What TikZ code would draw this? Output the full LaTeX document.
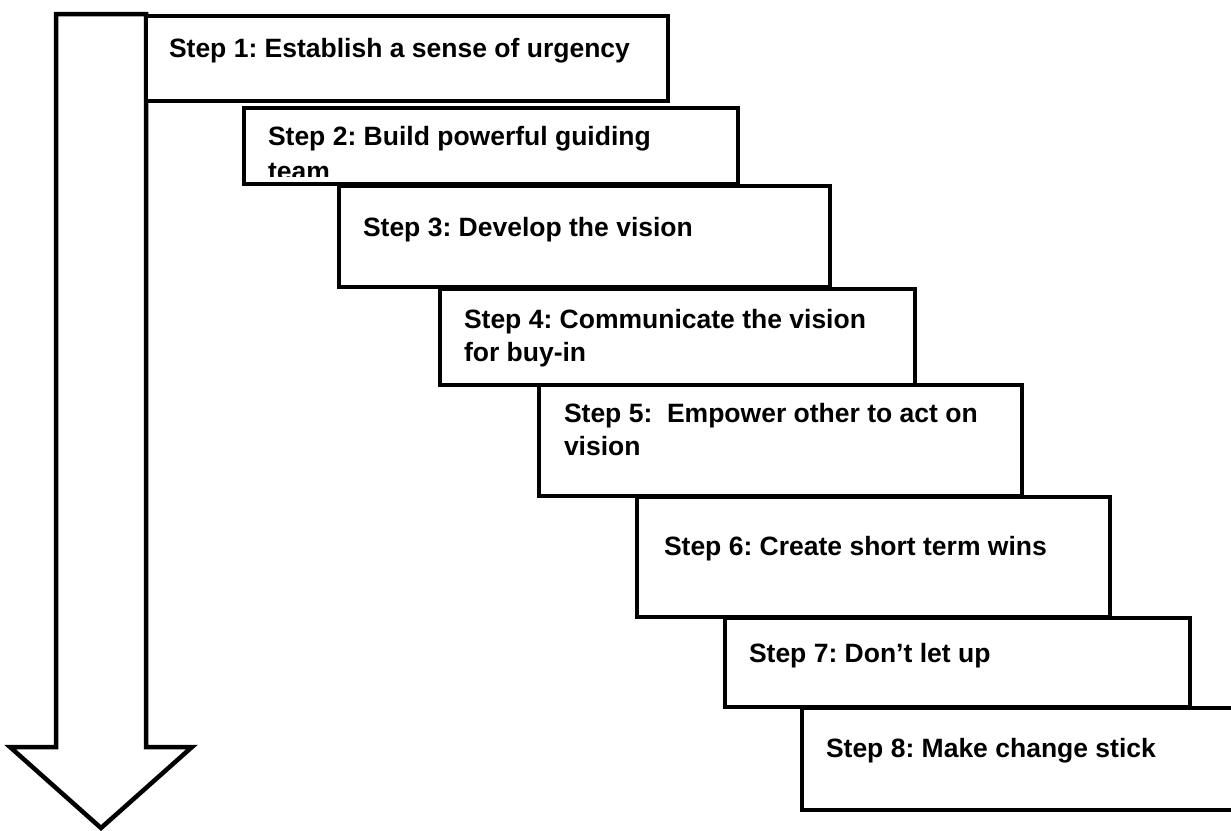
\documentclass[tikz,border=0pt]{standalone}
\usepackage{fontspec}
\setmainfont{Liberation Sans}
\frenchspacing
\begin{document}
\begin{tikzpicture}[x=1pt,y=-1pt,
  stepbox/.style={draw=black,fill=white,line width=4.5pt,line join=miter,rectangle,inner sep=0pt,outer sep=0pt,anchor=north west},
  steptext/.style={anchor=base west,inner sep=0pt,outer sep=0pt,font=\fontsize{26.5}{33}\selectfont\bfseries},
  bigarrow/.style={draw=black,fill=white,line width=4.5pt,line join=miter}]
\useasboundingbox (0,0) rectangle (1231,830);
% big down arrow
\draw[bigarrow] (56,14) -- (146,14) -- (146,747) -- (192,747) -- (101,828) -- (10,747) -- (56,747) -- cycle;
% boxes
\node[stepbox,minimum width=522pt,minimum height=85pt] (b1) at (146,16) {};
\node[steptext] (t1) at (169,57) {Step 1: Establish a sense of urgency};
\node[stepbox,minimum width=494pt,minimum height=76pt] (b2) at (244,108) {};
\begin{scope}
\clip (244,108) rectangle (738,176);
\node[steptext] (t2) at (268,145) {\begin{tabular}[t]{@{}l@{}}Step 2: Build powerful guiding\\[2pt]team\end{tabular}};
\end{scope}
\node[stepbox,minimum width=491pt,minimum height=101pt] (b3) at (339,186) {};
\node[steptext] (t3) at (363,236) {Step 3: Develop the vision};
\node[stepbox,minimum width=475pt,minimum height=96pt] (b4) at (440,289) {};
\node[steptext] (t4) at (464,328) {\begin{tabular}[t]{@{}l@{}}Step 4: Communicate the vision\\for buy-in\end{tabular}};
\node[stepbox,minimum width=483pt,minimum height=111pt] (b5) at (539,385) {};
\node[steptext] (t5) at (564,422) {\begin{tabular}[t]{@{}l@{}}Step 5:\ \ Empower other to act on\\vision\end{tabular}};
\node[stepbox,minimum width=473pt,minimum height=120pt] (b6) at (637,497) {};
\node[steptext] (t6) at (664,555) {Step 6: Create short term wins};
\node[stepbox,minimum width=465pt,minimum height=89pt] (b7) at (725,618) {};
\node[steptext] (t7) at (749,662) {Step 7: Don’t let up};
\node[stepbox,minimum width=448pt,minimum height=102pt] (b8) at (802,708) {};
\node[steptext] (t8) at (826,757) {Step 8: Make change stick};
\end{tikzpicture}
\end{document}
